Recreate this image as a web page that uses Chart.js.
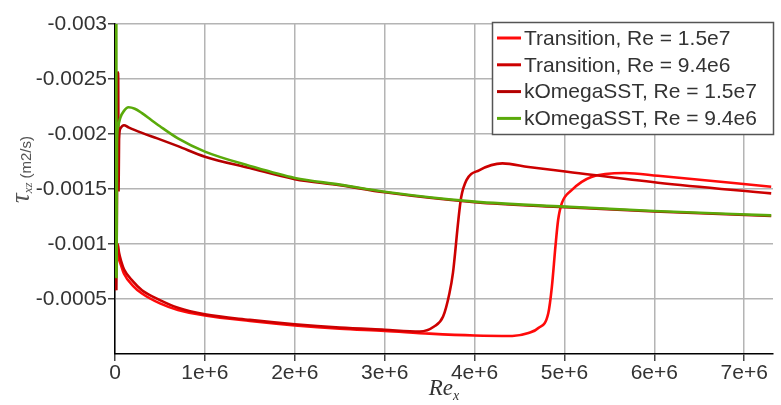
<!DOCTYPE html>
<html>
<head>
<meta charset="utf-8">
<script src="https://cdn.jsdelivr.net/npm/chart.js@4.4.0/dist/chart.umd.min.js"></script>
<style>
html, body { margin: 0; padding: 0; background: #fff; }
#myChart { display: block; }
</style>
</head>
<body>
<canvas id="myChart" width="781" height="405"></canvas>
<script>
// tick values / labels
var xTickValues = [0, 1e6, 2e6, 3e6, 4e6, 5e6, 6e6, 7e6];
var xTickLabels = ['0', '1e+6', '2e+6', '3e+6', '4e+6', '5e+6', '6e+6', '7e+6'];
var yTickValues = [-0.003, -0.0025, -0.002, -0.0015, -0.001, -0.0005];
var yTickLabels = ['-0.003', '-0.0025', '-0.002', '-0.0015', '-0.001', '-0.0005'];

var seriesLabels = ['Transition, Re = 1.5e7', 'Transition, Re = 9.4e6', 'kOmegaSST, Re = 1.5e7', 'kOmegaSST, Re = 9.4e6'];

// Transition, Re = 1.5e7
var trans15X = [0, 2.5e4, 4e4, 7e4, 1e5, 2e5, 3e5, 5e5, 7e5, 1e6, 1.5e6, 2e6, 2.5e6, 3e6, 3.5e6, 4e6, 4.42e6, 4.6e6, 4.71e6, 4.82e6, 4.86e6, 4.9e6, 4.93e6, 4.97e6, 5.08e6, 5.3e6, 5.67e6, 6.04e6, 7.3e6];
var trans15Y = [-0.00058, -0.00098, -0.00088, -0.0008, -0.00073, -0.00062, -0.00055, -0.00046, -0.0004, -0.00035, -0.0003, -0.00026, -0.00023, -0.00021, -0.000185, -0.000168, -0.000164, -0.00019, -0.000236, -0.00037, -0.00061, -0.00098, -0.00122, -0.00137, -0.00149, -0.00161, -0.001645, -0.00162, -0.00152];

// Transition, Re = 9.4e6
var trans94X = [0, 3e4, 4.5e4, 7e4, 1e5, 2e5, 3e5, 5e5, 7e5, 1e6, 1.5e6, 2e6, 2.5e6, 3e6, 3.39e6, 3.55e6, 3.65e6, 3.72e6, 3.76e6, 3.82e6, 3.85e6, 3.91e6, 4.05e6, 4.31e6, 4.6e6, 5.03e6, 6.04e6, 7.3e6];
var trans94Y = [-0.00062, -0.001, -0.00092, -0.00084, -0.00077, -0.00066, -0.00058, -0.00049, -0.00042, -0.00036, -0.00031, -0.00027, -0.00024, -0.00022, -0.000205, -0.00025, -0.00034, -0.00055, -0.00074, -0.00122, -0.00142, -0.00158, -0.00167, -0.001733, -0.0017, -0.001657, -0.001557, -0.00146];

// kOmegaSST, Re = 1.5e7
var komega15X = [1.5e4, 3.5e4, 4e4, 4.5e4, 6e4, 1e5, 1.5e5, 3e5, 4.7e5, 7e5, 1e6, 1.5e6, 2e6, 2.5e6, 3e6, 4e6, 5e6, 6e6, 7.3e6];
var komega15Y = [-0.00058, -0.00256, -0.00149, -0.00195, -0.00205, -0.00208, -0.00206, -0.00201, -0.00196, -0.00189, -0.001794, -0.00169, -0.00159, -0.001535, -0.00147, -0.00138, -0.001335, -0.001295, -0.001255];

// kOmegaSST, Re = 9.4e6
var komega94X = [6e3, 1e4, 1.4e4, 1.8e4, 2.2e4, 3e4, 6e4, 1e5, 1.5e5, 2.2e5, 3e5, 4e5, 5e5, 7e5, 1e6, 1.5e6, 2e6, 2.5e6, 3e6, 4e6, 5e6, 6e6, 7.3e6];
var komega94Y = [-0.0033, -0.0007, -0.0033, -0.0007, -0.0019, -0.00205, -0.00215, -0.00221, -0.002243, -0.00223, -0.00219, -0.00213, -0.00207, -0.00196, -0.00184, -0.00171, -0.0016, -0.00154, -0.001475, -0.001385, -0.00134, -0.0013, -0.00126];

var seriesColors = ['rgb(255, 10, 10)', 'rgb(205, 0, 0)', 'rgb(180, 0, 0)', 'rgb(90, 170, 10)'];

function toPoints(xs, ys) {
    return xs.map(function (x, i) { return { x: x, y: ys[i] }; });
}

var legendBox = {
    id: 'legendBox',
    afterDraw: function (chart) {
        var ctx = chart.ctx;
        ctx.save();
        ctx.fillStyle = '#fff';
        ctx.fillRect(492.5, 22.5, 281, 112);
        ctx.strokeStyle = '#555';
        ctx.lineWidth = 1.5;
        ctx.strokeRect(492.5, 22.5, 281, 112);
        ctx.font = '21px "Liberation Sans", Arial, sans-serif';
        ctx.textBaseline = 'middle';
        chart.data.datasets.forEach(function (ds, i) {
            var y = 38 + i * 26.8;
            ctx.strokeStyle = ds.borderColor;
            ctx.lineWidth = 3;
            ctx.beginPath();
            ctx.moveTo(497, y);
            ctx.lineTo(521, y);
            ctx.stroke();
            ctx.fillStyle = '#333';
            ctx.fillText(ds.label, 524, y + 1);
        });
        ctx.restore();
    }
};

var axisTitles = {
    id: 'axisTitles',
    afterDraw: function (chart) {
        var ctx = chart.ctx;
        ctx.save();
        // x title: Re_x
        ctx.fillStyle = '#333';
        ctx.textBaseline = 'alphabetic';
        ctx.font = 'italic 23px "Liberation Serif", serif';
        var w1 = ctx.measureText('Re').width;
        ctx.font = 'italic 14px "Liberation Serif", serif';
        var w2 = ctx.measureText('x').width;
        var cx = (chart.chartArea.left + chart.chartArea.right) / 2;
        var sx = cx - (w1 + w2) / 2;
        ctx.font = 'italic 23px "Liberation Serif", serif';
        ctx.fillText('Re', sx, 395);
        ctx.font = 'italic 14px "Liberation Serif", serif';
        ctx.fillText('x', sx + w1, 400);

        // y title: tau_xz (m2/s)
        ctx.translate(29, 203);
        ctx.rotate(-Math.PI / 2);
        ctx.fillStyle = '#555';
        ctx.font = 'italic 27px "Liberation Serif", serif';
        ctx.fillText('\u03c4', 0, 0);
        var t = ctx.measureText('\u03c4').width;
        ctx.font = 'italic 13px "Liberation Serif", serif';
        ctx.fillText('xz', t, 3);
        var t2 = ctx.measureText('xz').width;
        ctx.font = '15px "Liberation Sans", Arial, sans-serif';
        ctx.fillText('(m2/s)', t + t2 + 4, 2);
        ctx.restore();
    }
};

var ctx = document.getElementById('myChart').getContext('2d');
var myChart = new Chart(ctx, {
    type: 'scatter',
    data: {
        datasets: [
            { label: seriesLabels[0], data: toPoints(trans15X, trans15Y), borderColor: seriesColors[0], order: 3 },
            { label: seriesLabels[1], data: toPoints(trans94X, trans94Y), borderColor: seriesColors[1], order: 2 },
            { label: seriesLabels[2], data: toPoints(komega15X, komega15Y), borderColor: seriesColors[2], order: 1 },
            { label: seriesLabels[3], data: toPoints(komega94X, komega94Y), borderColor: seriesColors[3], order: 0 }
        ].map(function (ds) {
            ds.showLine = true;
            ds.pointRadius = 0;
            ds.borderWidth = 2.6;
            ds.cubicInterpolationMode = 'monotone';
            ds.backgroundColor = ds.borderColor;
            return ds;
        })
    },
    options: {
        responsive: false,
        animation: false,
        devicePixelRatio: 1,
        layout: { padding: { top: 24, right: 8, left: 0, bottom: 0 } },
        plugins: {
            legend: { display: false },
            tooltip: { enabled: false }
        },
        scales: {
            x: {
                type: 'linear',
                min: 0,
                max: 7.32e6,
                afterBuildTicks: function (s) {
                    s.ticks = xTickValues.map(function (v) { return { value: v }; });
                },
                afterFit: function (s) { s.height = 51; },
                ticks: {
                    color: '#333',
                    font: { family: '"Liberation Sans", Arial, sans-serif', size: 21 },
                    padding: 0,
                    maxRotation: 0,
                    callback: function (v, i) { return xTickLabels[i]; }
                },
                grid: { color: '#b4b4b4', lineWidth: 1.5, tickLength: 7, tickColor: '#444' },
                border: { color: '#000', width: 1.5 }
            },
            y: {
                type: 'linear',
                reverse: true,
                min: -0.003,
                max: 0,
                afterBuildTicks: function (s) {
                    s.ticks = yTickValues.map(function (v) { return { value: v }; });
                },
                afterFit: function (s) { s.width = 115; },
                ticks: {
                    color: '#333',
                    font: { family: '"Liberation Sans", Arial, sans-serif', size: 21 },
                    padding: 1,
                    callback: function (v, i) { return yTickLabels[i]; }
                },
                grid: { color: '#b4b4b4', lineWidth: 1.5, tickLength: 7, tickColor: '#444' },
                border: { color: '#000', width: 1.5 }
            }
        }
    },
    plugins: [legendBox, axisTitles]
});
</script>
</body>
</html>
